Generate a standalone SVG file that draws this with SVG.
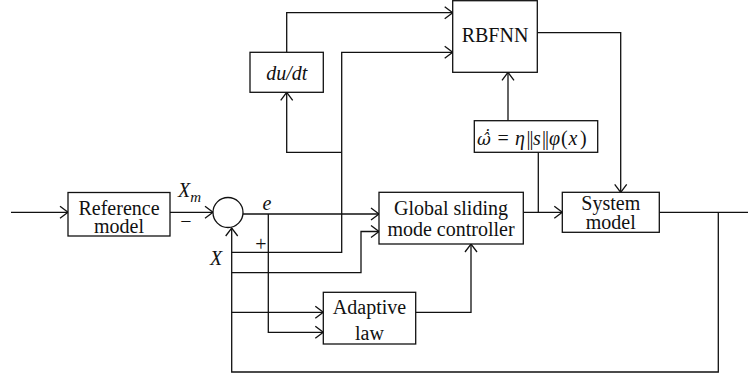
<svg xmlns="http://www.w3.org/2000/svg" width="748" height="379" viewBox="0 0 748 379">
<style>
.box{fill:#fff;stroke:#111;stroke-width:1.3}
.ln{fill:none;stroke:#111;stroke-width:1.3}
text{font-family:"Liberation Serif","DejaVu Serif",serif;font-size:20px;fill:#111}
.c{text-anchor:middle}
.i{font-style:italic}
.dv{font-family:"DejaVu Serif",serif}
</style>
<defs>
<marker id="ah" markerUnits="userSpaceOnUse" markerWidth="12" markerHeight="14" refX="10" refY="7" orient="auto">
<path d="M2,1 L10,7 L2,13" fill="none" stroke="#111" stroke-width="1.3"/>
</marker>
</defs>
<rect width="748" height="379" fill="#fff"/>
<g id="connectors">
<path class="ln" d="M11,212.3 H68" marker-end="url(#ah)"/>
<path class="ln" d="M170,212.3 H213" marker-end="url(#ah)"/>
<path class="ln" d="M243,214 H379" marker-end="url(#ah)"/>
<path class="ln" d="M268.3,214 V332.3 H323.3" marker-end="url(#ah)"/>
<path class="ln" d="M659.3,212.3 H748"/>
<path class="ln" d="M718.3,212.3 V372 H231.7 V228" marker-end="url(#ah)"/>
<path class="ln" d="M231.7,252.3 H341.7 V52.3 H452.7" marker-end="url(#ah)"/>
<path class="ln" d="M231.7,272.7 H361 V231.5 H379" marker-end="url(#ah)"/>
<path class="ln" d="M231.7,312.3 H323.3" marker-end="url(#ah)"/>
<path class="ln" d="M341.7,152.3 H286.7 V92.3" marker-end="url(#ah)"/>
<path class="ln" d="M286.7,52.3 V12.7 H452.7" marker-end="url(#ah)"/>
<path class="ln" d="M415.7,312.3 H471 V244" marker-end="url(#ah)"/>
<path class="ln" d="M523.3,212.3 H562.3" marker-end="url(#ah)"/>
<path class="ln" d="M538.3,152.3 V212.3"/>
<path class="ln" d="M508,120.7 V72.3" marker-end="url(#ah)"/>
<path class="ln" d="M537.3,32.7 H620.7 V192.3" marker-end="url(#ah)"/>
</g>
<g id="reference-model">
<rect class="box" x="68" y="192.5" width="102" height="43.5"/>
<text class="c" x="119" y="214.5">Reference</text>
<text class="c" x="119" y="232.5">model</text>
</g>
<g id="sum">
<circle class="box" cx="228" cy="212.5" r="15"/>
</g>
<g id="rbfnn">
<rect class="box" x="452.7" y="0.7" width="84.6" height="71.6"/>
<text class="c" x="495" y="41.7">RBFNN</text>
</g>
<g id="dudt">
<rect class="box" x="250" y="52.3" width="73.3" height="40"/>
<text class="c i" x="286.7" y="80">du/dt</text>
</g>
<g id="update-law">
<rect class="box" x="474.3" y="120.7" width="123.4" height="31.6"/>
<text y="145"><tspan class="i dv" x="477" font-size="17">ω̂̇</tspan><tspan x="497.5">=</tspan><tspan class="i" x="515">η</tspan><tspan x="526.5">|</tspan><tspan x="529.5">|</tspan><tspan class="i" x="533">s</tspan><tspan x="542">|</tspan><tspan x="545">|</tspan><tspan class="i" x="549">φ</tspan><tspan x="561">(</tspan><tspan class="i" x="568.5">x</tspan><tspan x="580">)</tspan></text>
</g>
<g id="gsmc">
<rect class="box" x="379" y="192.3" width="144.3" height="51.7"/>
<text class="c" x="451" y="215">Global sliding</text>
<text class="c" x="451" y="236">mode controller</text>
</g>
<g id="system-model">
<rect class="box" x="562.3" y="192.3" width="97" height="40"/>
<text class="c" x="610.8" y="209.5">System</text>
<text class="c" x="610.8" y="229">model</text>
</g>
<g id="adaptive-law">
<rect class="box" x="323.3" y="292.3" width="92.4" height="51.7"/>
<text class="c" x="369.5" y="314.3">Adaptive</text>
<text class="c" x="369.5" y="340">law</text>
</g>
<g id="labels">
<text class="i" x="178" y="197.3">X<tspan font-size="15" dy="4.4">m</tspan></text>
<text class="c" x="186" y="228">−</text>
<text class="c i" x="267" y="210">e</text>
<text class="c" x="261" y="251">+</text>
<text class="i" x="210" y="265">X</text>
</g>
</svg>
